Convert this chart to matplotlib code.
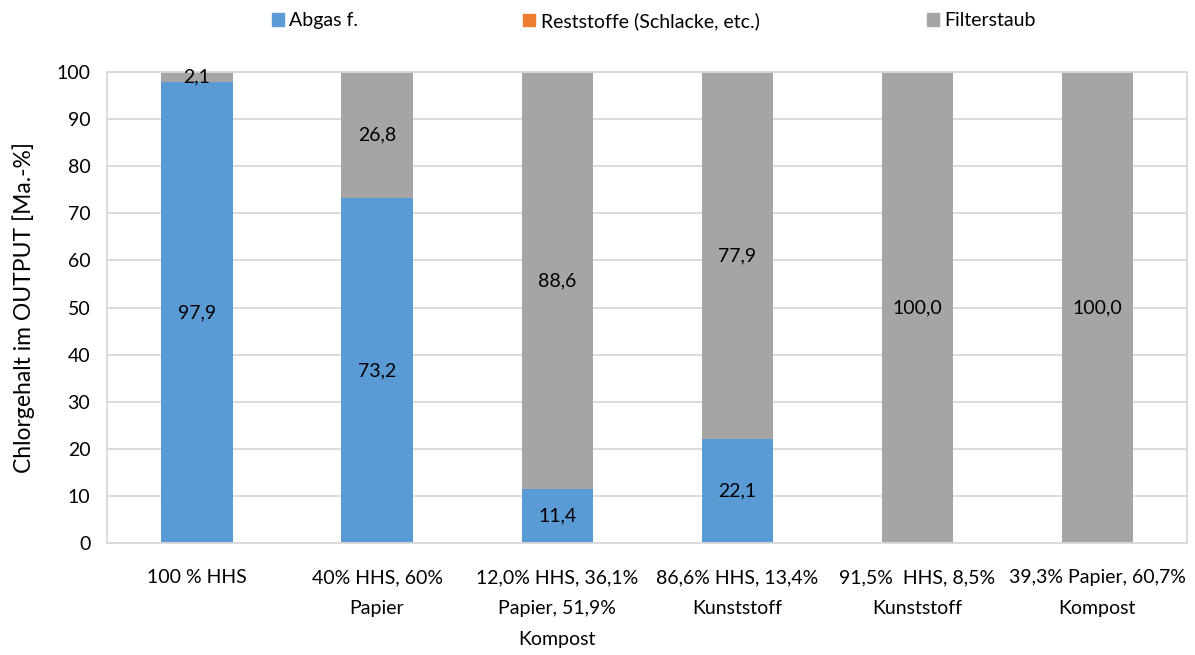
import matplotlib.pyplot as plt
import matplotlib.patches as mpatches
import numpy as np

plt.rcParams['font.family'] = ['Lato', 'DejaVu Sans']

categories = ["100 % HHS", "40% HHS, 60%\nPapier", "12,0% HHS, 36,1%\nPapier, 51,9%\nKompost",
              "86,6% HHS, 13,4%\nKunststoff", "91,5%  HHS, 8,5%\nKunststoff", "39,3% Papier, 60,7%\nKompost"]
abgas = [97.9, 73.2, 11.4, 22.1, 0.0, 0.0]
reststoffe = [0.0, 0.0, 0.0, 0.0, 0.0, 0.0]
filterstaub = [2.1, 26.8, 88.6, 77.9, 100.0, 100.0]
series_names = ["Abgas f.", "Reststoffe (Schlacke, etc.)", "Filterstaub"]
colors = ["#5B9BD5", "#ED7D31", "#A5A5A5"]

fig = plt.figure(figsize=(11.95, 6.55), dpi=100)
ax = fig.add_axes([0.0895, 0.171, 0.904, 0.719])

x = np.arange(len(categories))
bottom = np.zeros(len(categories))
for vals, name, col in zip([abgas, reststoffe, filterstaub], series_names, colors):
    vals = np.array(vals)
    ax.bar(x, vals, 0.395, bottom=bottom, color=col, zorder=2)
    for xi, b, v in zip(x, bottom, vals):
        if v > 0:
            ax.text(xi, b + v / 2, f"{v:.1f}".replace(".", ","), ha="center", va="center",
                    fontsize=14, color="black", zorder=3)
    bottom += vals

ax.set_xlim(-0.5, len(categories) - 0.5)
ax.set_ylim(0, 100)
ax.set_yticks(range(0, 101, 10))
ax.yaxis.grid(True, color="#D9D9D9", linewidth=1.3, zorder=0)
ax.set_axisbelow(True)
for s in ax.spines.values():
    s.set_color("#D9D9D9")
    s.set_linewidth(1.3)
ax.tick_params(axis="y", length=0, pad=12, labelsize=14)
ax.tick_params(axis="x", length=0, pad=19, labelsize=14)
ax.set_xticks(x)
ax.set_xticklabels(categories, linespacing=2.0)
ax.set_ylabel("Chlorgehalt im OUTPUT [Ma.-%]", fontsize=16.5, labelpad=15)

# legend entries spread across the top
leg_x = [0.2276, 0.4377, 0.7757]
for lx, name, col in zip(leg_x, series_names, colors):
    h = mpatches.Patch(color=col)
    fig.legend([h], [name], loc="center left", bbox_to_anchor=(lx, 0.968), frameon=False,
               fontsize=14, handlelength=0.6, handleheight=0.6, handletextpad=0.3,
               borderpad=0, borderaxespad=0)

fig.savefig("out.png", dpi=100)
